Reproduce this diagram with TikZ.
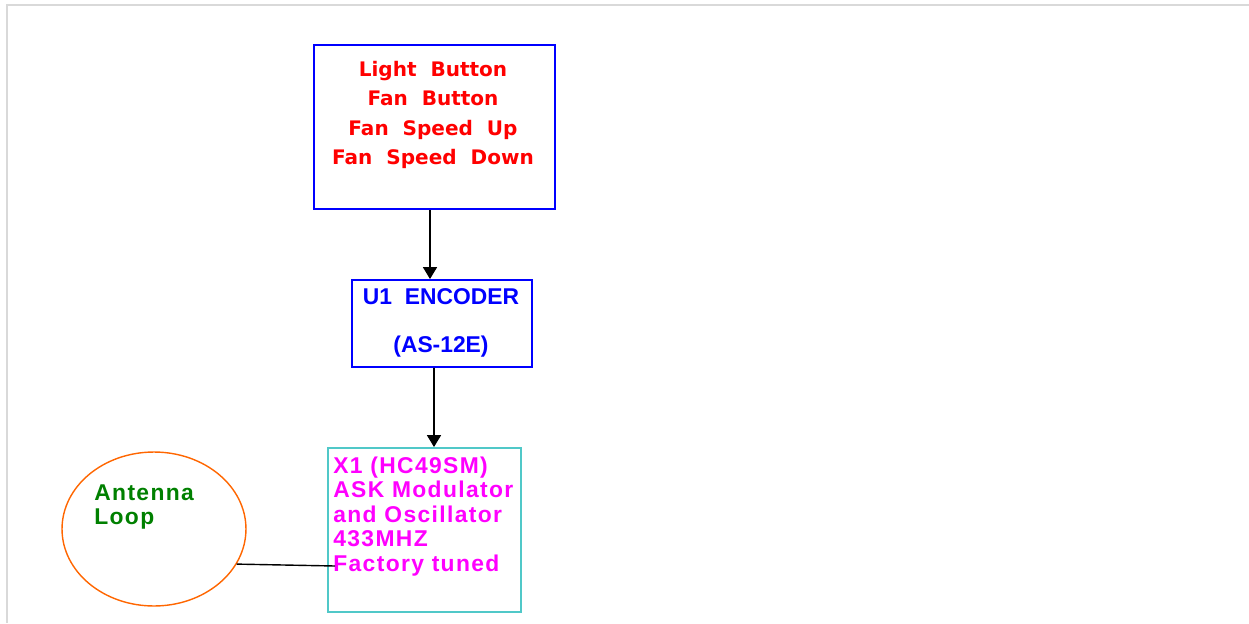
\documentclass[tikz,border=0pt]{standalone}
\usepackage{fontspec}
\setmainfont{Liberation Sans}
\newfontfamily\widefont{Liberation Sans}[LetterSpace=6]
\newfontfamily\btnfont{DejaVu Sans}
\usetikzlibrary{arrows.meta, positioning, shapes.geometric, calc}

\definecolor{boxblue}{RGB}{0,0,255}
\definecolor{boxcyan}{RGB}{80,200,200}
\definecolor{antorange}{RGB}{255,102,0}
\definecolor{antgreen}{RGB}{0,128,0}
\definecolor{labelred}{RGB}{255,0,0}
\definecolor{labelmagenta}{RGB}{255,0,255}
\definecolor{framegray}{RGB}{217,217,217}

\begin{document}
\begin{tikzpicture}[x=0.02cm, y=-0.02cm,
        block/.style={draw, line width=1.1pt, inner sep=0pt},
        arrow/.style={-{Triangle[length=0.24cm, width=0.28cm]}, line width=1pt},
        label/.style={inner sep=0pt, font=\bfseries\fontsize{13}{13.9}\selectfont}
    ]
        \useasboundingbox (0,0) rectangle (1249,623);

        % Frame
        \draw[framegray, line width=1.1pt] (6,5) -- (1249,5);
        \draw[framegray, line width=1.1pt] (7,5) -- (7,623);

        % Buttons
        \node[block, boxblue, minimum width=4.82cm, minimum height=3.28cm] (buttons) at (434.5,127) {};
        \node[inner sep=0pt, align=center, text=labelred, font=\btnfont\bfseries\fontsize{11.4}{16.7}\selectfont] (buttonstext) at (433,115) {
            Light\ \ Button\\
            Fan\ \ Button\\
            Fan\ \ Speed\ \ Up\\
            Fan\ \ Speed\ \ Down
        };

        % Encoder
        \node[block, boxblue, minimum width=3.6cm, minimum height=1.74cm] (enc) at (442,323.5) {};
        \node[label, text=boxblue, align=center] (enctext) at (441,323) {
            U1\ \ ENCODER\\[13.5pt]
            (AS-12E)
        };

        % Modulator
        \node[block, boxcyan, minimum width=3.86cm, minimum height=3.28cm] (x1) at (424.5,530) {};
        \node[label, text=labelmagenta, align=left, anchor=west, font=\widefont\bfseries\fontsize{13}{13.9}\selectfont] (x1text) at (333,516.5) {
            X1 (HC49SM)\\
            ASK Modulator\\
            and Oscillator\\
            433MHZ\\
            Factory\ tuned
        };

        % Antenna
        \node[ellipse, draw=antorange, line width=0.8pt, minimum width=3.68cm, minimum height=3.08cm, inner sep=0pt] (ant) at (154,529) {};
        \node[label, text=antgreen, align=left, anchor=west, font=\widefont\bfseries\fontsize{13}{13.6}\selectfont] (anttext) at (94,507) {
            Antenna\\
            Loop
        };

        \draw[arrow] ($(buttons.south)+(-4.5,0)$) -- ($(enc.north)+(-12,0)$);
        \draw[arrow] ($(enc.south)+(-8,0)$) -- ($(x1.north)+(9.5,0)$);
        \draw[line width=0.8pt] (ant.-23) -- ($(x1.west)+(8,36)$);

    \end{tikzpicture}
\end{document}
